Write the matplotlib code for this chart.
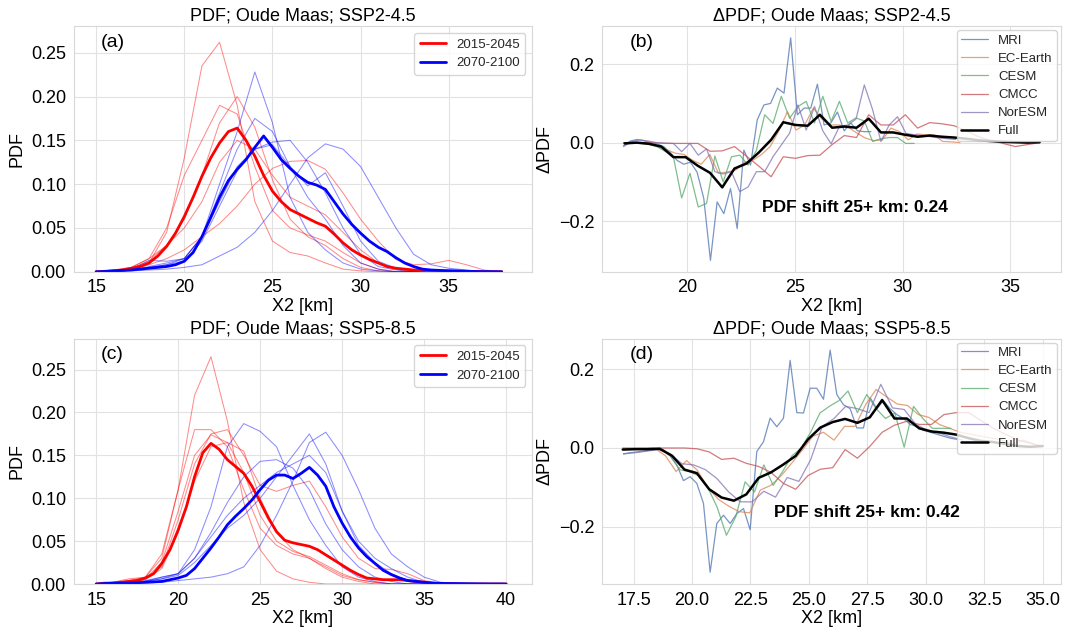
import matplotlib
matplotlib.use("Agg")
import matplotlib.pyplot as plt
import numpy as np
import seaborn as sns

sns.set_style("whitegrid", {"grid.color": "#e2e2e2", "axes.edgecolor": "#d8d8d8"})
plt.rcParams['font.family'] = ['Liberation Sans', 'DejaVu Sans']

# ---------------- left panels: PDFs ----------------
period_labels = ["2015-2045", "2070-2100"]

# thin model curves on 1 km grid
x_thin_a = np.arange(15, 39)
red_thin_a = [
    [0, .001, .003, .01, .045, .13, .235, .262, .19, .08, .035, .022, .018, .01, .003, .001, 0, 0, 0, 0, 0, 0, 0, 0],
    [0, .001, .004, .012, .03, .06, .11, .17, .2, .165, .105, .06, .04, .03, .015, .005, .001, 0, 0, 0, 0, 0, 0, 0],
    [0, .002, .005, .015, .05, .11, .15, .19, .18, .12, .07, .05, .042, .035, .022, .01, .003, 0, 0, 0, 0, 0, 0, 0],
    [0, .001, .003, .008, .015, .025, .04, .055, .075, .1, .118, .126, .127, .117, .09, .06, .035, .014, .008, .009, .013, .008, .002, 0],
    [0, .001, .005, .015, .03, .05, .08, .125, .15, .14, .11, .085, .075, .065, .045, .025, .01, .003, 0, 0, 0, 0, 0, 0],
]
blue_thin_a = [
    [0, 0, .002, .005, .008, .015, .04, .1, .16, .228, .17, .085, .045, .025, .01, .003, .001, 0, 0, 0, 0, 0, 0, 0],
    [0, .001, .003, .013, .012, .015, .04, .09, .14, .175, .16, .12, .085, .06, .03, .01, .003, 0, 0, 0, 0, 0, 0, 0],
    [0, 0, .002, .005, .008, .012, .035, .075, .115, .14, .148, .15, .125, .09, .05, .02, .006, .002, 0, 0, 0, 0, 0, 0],
    [0, 0, .001, .002, .003, .005, .008, .018, .028, .045, .07, .1, .13, .146, .14, .12, .085, .05, .02, .008, .004, .002, 0, 0],
    [0, 0, .002, .006, .01, .015, .04, .08, .12, .14, .145, .12, .098, .113, .075, .035, .012, .004, .001, 0, 0, 0, 0, 0],
]
# ensemble curves on 0.5 km grid
x_thick_a = np.arange(15, 38.01, 0.5)
red_full_a = [0, .0005, .001, .002, .004, .006, .01, .018, .029, .044,
              .063, .085, .109, .13, .147, .16, .164, .15, .132, .11,
              .092, .08, .071, .066, .061, .056, .052, .043, .033, .025,
              .019, .014, .01, .006, .004, .003, .002, .0015, .001, .001,
              .001, .0008, .0005, .0003, .0001, 0, 0]
blue_full_a = [0, .0003, .001, .0015, .002, .003, .004, .005, .006, .008,
               .012, .022, .04, .062, .085, .104, .117, .128, .142, .155,
               .142, .128, .118, .109, .102, .099, .094, .08, .066, .054,
               .044, .035, .028, .023, .016, .01, .006, .003, .002, .0015,
               .001, .0008, .0005, .0003, .0002, .0001, 0]

x_thin_c = np.arange(15, 41)
red_thin_c = [
    [0, .001, .004, .008, .03, .11, .22, .265, .19, .095, .04, .015, .006, .002, 0, 0, 0, 0, 0, 0, 0, 0, 0, 0, 0, 0],
    [0, .002, .006, .008, .035, .11, .18, .18, .16, .11, .065, .045, .035, .03, .02, .01, .005, .002, 0, 0, 0, 0, 0, 0, 0, 0],
    [0, .001, .004, .007, .02, .075, .14, .175, .18, .15, .115, .108, .115, .12, .09, .055, .03, .018, .017, .012, .004, .001, 0, 0, 0, 0],
    [0, .001, .003, .006, .025, .085, .15, .174, .165, .13, .08, .05, .038, .032, .022, .012, .005, .002, 0, 0, 0, 0, 0, 0, 0, 0],
    [0, .001, .002, .005, .018, .06, .12, .16, .165, .155, .1, .06, .04, .03, .018, .008, .003, 0, 0, 0, 0, 0, 0, 0, 0, 0],
]
blue_thin_c = [
    [0, 0, .001, .003, .008, .012, .04, .09, .16, .187, .178, .16, .115, .075, .045, .02, .008, .003, 0, 0, 0, 0, 0, 0, 0, 0],
    [0, 0, .001, .003, .006, .01, .025, .045, .065, .08, .1, .125, .15, .175, .14, .085, .045, .025, .012, .004, .001, 0, 0, 0, 0, 0],
    [0, 0, 0, .001, .002, .004, .006, .008, .012, .02, .045, .08, .12, .165, .177, .15, .11, .065, .035, .02, .008, .002, .001, .0005, .0003, 0],
    [0, 0, .002, .004, .008, .012, .03, .06, .095, .125, .143, .145, .135, .11, .07, .04, .02, .008, .003, 0, 0, 0, 0, 0, 0, 0],
    [0, 0, .001, .003, .006, .012, .03, .055, .08, .1, .115, .13, .14, .15, .13, .085, .05, .03, .018, .008, .002, 0, 0, 0, 0, 0],
]
x_thick_c = np.arange(15, 40.01, 0.5)
red_full_c = [0, .001, .001, .002, .003, .004, .007, .012, .024, .04,
              .063, .09, .125, .153, .164, .157, .145, .137, .129, .114,
              .096, .077, .061, .051, .048, .046, .044, .04, .034, .028,
              .022, .016, .011, .007, .006, .005, .005, .005, .004, .003,
              .002, .001, .0005, .0003, .0001, 0, 0, 0, 0, 0, 0]
blue_full_c = [0, .0005, .001, .001, .001, .0015, .002, .0025, .003, .005,
               .007, .01, .018, .03, .042, .055, .069, .079, .088, .098,
               .11, .121, .127, .127, .123, .129, .136, .127, .114, .09,
               .071, .055, .042, .032, .024, .016, .011, .007, .004, .003,
               .002, .001, .0007, .0006, .0005, .0004, .0003, .0002, .0001, .0001, 0]

# ---------------- right panels: delta PDFs ----------------
models = ["MRI", "EC-Earth", "CESM", "CMCC", "NorESM"]
model_colors = sns.color_palette("deep", 5)

# each series: (first bin centre, bin step, values)
dpdf_b = {
    "MRI": (17.06, 0.31, [-.008, .004, .008, .005, 0, -.003, -.01, -.025, -.045, -.055,
                          -.05, -.075, -.142, -.30, -.151, -.181, -.117, -.219, -.019, -.057,
                          .058, .096, .1, .139, .126, .267, .071, .088, .088, .149,
                          .045, .05, .078, .03, .05, .03, .028, .028]),
    "EC-Earth": (17.06, 0.4, [0, 0, -.002, -.005, -.01, -.018, -.027, -.03, -.045, -.055,
                              -.03, -.078, -.075, -.07, -.05, -.045, -.03, -.01, .03, .079,
                              .032, .045, .088, .06, .045, .045, .04, .025, .012, .005,
                              .007, .037, .028, .007, .022, .02, .02, .003, .002, 0]),
    "CESM": (17.06, 0.385, [0, 0, 0, -.003, -.01, -.022, -.036, -.141, -.078, -.164,
                            -.155, -.034, -.1, -.036, -.032, -.057, -.02, .071, .049, .118,
                            .062, .092, .105, .05, .118, .054, .105, .05, .063, .055,
                            .003, .01, .013, .013, -.002, -.002]),
    "CMCC": (17.11, 0.566, [0, 0, 0, -.001, -.002, -.002, -.002, -.022, -.021, -.01,
                            -.035, -.06, -.087, -.036, -.04, -.033, -.032, -.005, .018, .013,
                            .071, .045, .045, .071, .037, .051, .048, .043, .03, .015,
                            .005, -.002, -.01, -.005, 0]),
    "NorESM": (17.06, 0.385, [-.01, .003, .007, .004, 0, -.002, -.002, -.023, -.002, -.032,
                              -.016, -.074, -.08, -.074, -.125, -.113, -.074, -.074, -.036, -.006,
                              .024, .096, .032, .092, .03, -.003, .041, .045, .06, .147,
                              .084, .003, .045, .066, .024, .02, .018, .015, .012, .01, .008]),
}
full_b = (17.11, 0.566, [-.002, 0, -.003, -.01, -.037, -.037, -.059, -.077, -.114, -.066,
                         -.053, -.025, .007, .052, .045, .043, .071, .038, .041, .038,
                         .061, .026, .026, .02, .015, .018, .015, .013, .01, .006,
                         .004, .002, .001, 0, .001])

dpdf_d = {
    "MRI": (17.07, 0.285, [-.015, -.012, -.01, -.008, -.005, -.003, -.005, -.02, -.043, -.083,
                           -.073, -.09, -.141, -.316, -.192, -.171, -.192, -.167, -.154, -.208,
                           -.009, .016, .076, .054, .076, .223, .09, .089, .152, .152,
                           .124, .249, .136, .11, .1, .051, .051, .128, .1, .12,
                           .1, .085, .075, .06, .055, .045, .04, .035, .03, .025, .022]),
    "EC-Earth": (17.07, 0.45, [-.002, -.002, -.002, -.001, -.02, -.06, -.032, -.056, -.1, -.13,
                               -.148, -.162, -.165, -.107, -.095, -.07, -.038, -.005, .03, .04,
                               .02, .055, .055, .11, .149, .13, .112, .108, .085, .078,
                               .06, .05, .04, .035, .03, .025, .02, .01, .02, .01]),
    "CESM": (17.07, 0.4, [-.003, -.002, -.002, -.001, -.003, -.02, -.055, -.06, -.07, -.1,
                          -.15, -.222, -.175, -.086, -.112, -.043, -.095, -.06, -.02, 0,
                          .04, .089, .106, .12, .145, .09, .136, .1, .075, .089,
                          .002, .106, .075, .05, .05, .05]),
    "CMCC": (17.04, 0.528, [0, 0, 0, 0, 0, 0, -.002, -.01, -.029, -.026,
                            -.039, -.047, -.062, -.09, -.105, -.07, -.054, -.05, -.004, -.026,
                            .004, .04, .058, .068, .06, .06, .085, .09, .09, .07,
                            .05, .035, .02, .012, .005]),
    "NorESM": (17.07, 0.5, [-.015, -.012, -.008, -.004, -.015, -.04, -.043, -.055, -.078, -.112,
                            -.137, -.137, -.11, -.125, -.075, -.085, -.03, .055, .075, .106,
                            .1, .09, .162, .102, .098, .06, .045, .038, .028, .02]),
}
full_d = (17.04, 0.528, [-.004, -.003, -.003, -.002, -.02, -.055, -.064, -.105, -.126, -.134,
                         -.118, -.076, -.062, -.042, -.02, .022, .052, .066, .074, .064,
                         .078, .122, .075, .075, .05, .042, .039, .034, .025, .018,
                         .015, .01, .005, .003, .005])

shift_b = 0.24
shift_d = 0.42


def bins(series):
    start, step, vals = series
    return start + step * np.arange(len(vals)), np.array(vals)


def pdf_panel(ax, x_thin, red_thin, blue_thin, x_thick, red_full, blue_full, title, tag):
    for y in red_thin:
        ax.plot(x_thin, y, color="red", lw=0.75, alpha=0.45)
    for y in blue_thin:
        ax.plot(x_thin, y, color="blue", lw=0.75, alpha=0.45)
    ax.plot(x_thick, red_full, color="red", lw=2, label=period_labels[0])
    ax.plot(x_thick, blue_full, color="blue", lw=2, label=period_labels[1])
    ax.set_title(title, fontsize=13, pad=4, color="black")
    ax.set_xlabel("X2 [km]", fontsize=13, labelpad=1, color="black")
    ax.set_ylabel("PDF", fontsize=13, labelpad=4, color="black")
    ax.set_yticks(np.arange(0, 0.26, 0.05))
    ax.set_yticklabels([f"{v:.2f}" for v in np.arange(0, 0.26, 0.05)])
    ax.tick_params(labelsize=13, pad=2, labelcolor="black")
    ax.legend(loc="upper right", fontsize=9.5, frameon=True)
    ax.text(0.06, 0.97, tag, transform=ax.transAxes, fontsize=14, va="top", color="black")


def dpdf_panel(ax, dpdf, full, shift, title, tag):
    for name, col in zip(models, model_colors):
        x, y = bins(dpdf[name])
        ax.plot(x, y, color=col, lw=0.9, alpha=0.75, label=name)
    x, y = bins(full)
    ax.plot(x, y, color="black", lw=1.8, label="Full")
    ax.text(23.5, -0.165, f"PDF shift 25+ km: {shift:.2f}", fontsize=12.5,
            fontweight="bold", va="center", color="black")
    ax.set_title(title, fontsize=13, pad=4, color="black")
    ax.set_xlabel("X2 [km]", fontsize=13, labelpad=1, color="black")
    ax.set_ylabel("ΔPDF", fontsize=13, labelpad=4, color="black")
    ax.set_yticks([-0.2, 0.0, 0.2])
    ax.tick_params(labelsize=13, pad=2, labelcolor="black")
    ax.legend(loc="upper right", fontsize=9.5, frameon=True, borderaxespad=0.3,
              borderpad=0.3, labelspacing=0.45)
    ax.text(0.06, 0.97, tag, transform=ax.transAxes, fontsize=14, va="top", color="black")


fig, axes = plt.subplots(2, 2, figsize=(10.66, 6.3), dpi=100)
fig.subplots_adjust(left=0.069, right=0.995, top=0.958, bottom=0.073,
                    wspace=0.153, hspace=0.273)

pdf_panel(axes[0, 0], x_thin_a, red_thin_a, blue_thin_a, x_thick_a, red_full_a, blue_full_a,
          "PDF; Oude Maas; SSP2-4.5", "(a)")
axes[0, 0].set_xlim(13.72, 39.72)
axes[0, 0].set_ylim(0, 0.28)
axes[0, 0].set_xticks([15, 20, 25, 30, 35])

pdf_panel(axes[1, 0], x_thin_c, red_thin_c, blue_thin_c, x_thick_c, red_full_c, blue_full_c,
          "PDF; Oude Maas; SSP5-8.5", "(c)")
axes[1, 0].set_xlim(13.62, 41.58)
axes[1, 0].set_ylim(0, 0.286)
axes[1, 0].set_xticks([15, 20, 25, 30, 35, 40])

dpdf_panel(axes[0, 1], dpdf_b, full_b, shift_b, "ΔPDF; Oude Maas; SSP2-4.5", "(b)")
axes[0, 1].set_xlim(16.07, 37.33)
axes[0, 1].set_ylim(-0.329, 0.296)
axes[0, 1].set_xticks([20, 25, 30, 35])

dpdf_panel(axes[1, 1], dpdf_d, full_d, shift_d, "ΔPDF; Oude Maas; SSP5-8.5", "(d)")
axes[1, 1].set_xlim(16.16, 35.76)
axes[1, 1].set_ylim(-0.346, 0.278)
axes[1, 1].set_xticks(np.arange(17.5, 35.1, 2.5))

fig.savefig("out.png", dpi=100)
